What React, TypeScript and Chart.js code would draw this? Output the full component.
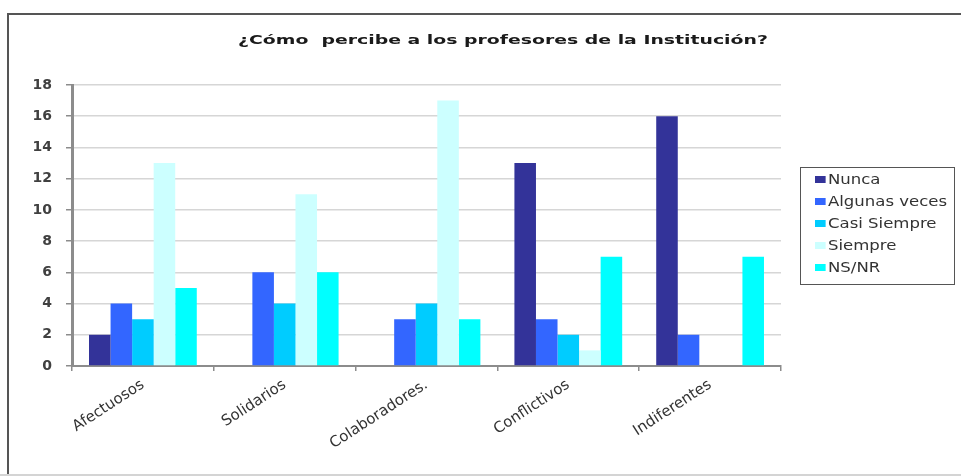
import React, { useEffect, useRef } from "react";
import { Chart, registerables } from "chart.js";

Chart.register(...registerables);

const categories = ["Afectuosos", "Solidarios", "Colaboradores.", "Conflictivos", "Indiferentes"];
const seriesNames = ["Nunca", "Algunas veces", "Casi Siempre", "Siempre", "NS/NR"];
const nunca = [2, 0, 0, 13, 16];
const algunasVeces = [4, 6, 3, 3, 2];
const casiSiempre = [3, 4, 4, 2, 0];
const siempre = [13, 11, 17, 1, 0];
const nsnr = [5, 6, 3, 7, 7];
const seriesColors = ["#333399", "#3366FF", "#00CCFF", "#CCFFFF", "#00FFFF"];
const yTicks = [0, 2, 4, 6, 8, 10, 12, 14, 16, 18];
const title = "¿Cómo  percibe a los profesores de la Institución?";

const W = 961;
const H = 476;
const AREA_LEFT = 72;
const AREA_RIGHT = 781;
const AREA_TOP = 85;
const AREA_BOTTOM = 366;
const FONT = "'DejaVu Sans', Verdana, sans-serif";

export default function App() {
  const ref = useRef<HTMLCanvasElement | null>(null);

  useEffect(() => {
    document.body.style.margin = "0";
    const values = [nunca, algunasVeces, casiSiempre, siempre, nsnr];
    const chart = new Chart(ref.current as HTMLCanvasElement, {
      type: "bar",
      data: {
        labels: categories,
        datasets: seriesNames.map((name, i) => ({
          label: name,
          data: values[i],
          backgroundColor: seriesColors[i],
          borderWidth: 0,
          categoryPercentage: 0.76,
          barPercentage: 1.0,
        })),
      },
      options: {
        animation: false,
        responsive: false,
        maintainAspectRatio: false,
        layout: {
          padding: { left: 0, right: W - AREA_RIGHT, top: AREA_TOP, bottom: 0 },
        },
        plugins: {
          legend: { display: false },
          title: { display: false },
          tooltip: { enabled: false },
        },
        scales: {
          x: {
            afterFit: (scale: any) => {
              scale.height = H - AREA_BOTTOM;
            },
            grid: {
              display: true,
              drawOnChartArea: false,
              drawTicks: true,
              tickLength: 5,
              tickColor: "#8c8c8c",
              lineWidth: 1.5,
            },
            border: { display: true, color: "#8c8c8c", width: 2 },
            ticks: {
              minRotation: 33,
              maxRotation: 33,
              padding: 5,
              color: "#333333",
              font: { family: FONT, size: 15 },
            },
          },
          y: {
            min: 0,
            max: 18,
            afterFit: (scale: any) => {
              scale.width = AREA_LEFT;
            },
            afterBuildTicks: (scale: any) => {
              scale.ticks = yTicks.map((v) => ({ value: v }));
            },
            grid: {
              color: "#d6d6d6",
              lineWidth: 1.5,
              drawTicks: true,
              tickLength: 6,
              tickColor: "#8c8c8c",
            },
            border: { display: true, color: "#8c8c8c", width: 3 },
            ticks: {
              padding: 14,
              color: "#404040",
              font: { family: FONT, size: 14, weight: "bold" },
            },
          },
        },
      },
    });
    return () => chart.destroy();
  }, []);

  return (
    <div style={{ position: "relative", width: W, height: H, background: "#fff", overflow: "hidden" }}>
      <canvas ref={ref} width={W} height={H} style={{ position: "absolute", left: 0, top: 0 }} />
      <div style={{ position: "absolute", left: 7, top: 13, width: W, height: 2, background: "#555" }} />
      <div style={{ position: "absolute", left: 7, top: 13, width: 2, height: H, background: "#555" }} />
      <div style={{ position: "absolute", left: 0, top: H - 2, width: W, height: 2, background: "#d4d4d4" }} />
      <div
        style={{
          position: "absolute",
          left: 0,
          width: 1006,
          top: 32,
          textAlign: "center",
          fontFamily: FONT,
          fontWeight: "bold",
          fontSize: 13,
          color: "#1a1a1a",
          whiteSpace: "pre",
          transform: "scaleX(1.45)",
          transformOrigin: "503px 0",
        }}
      >
        {title}
      </div>
      <div
        style={{
          position: "absolute",
          left: 800,
          top: 167,
          width: 155,
          height: 118,
          border: "1.5px solid #555",
          boxSizing: "border-box",
          fontFamily: FONT,
          fontSize: 14,
          color: "#333",
        }}
      >
        {seriesNames.map((name, i) => (
          <div
            key={name}
            style={{
              position: "absolute",
              left: 14,
              top: 1 + i * 22,
              height: 20,
              display: "flex",
              alignItems: "center",
              whiteSpace: "nowrap",
              transform: "scaleX(1.18)",
              transformOrigin: "0 0",
            }}
          >
            <span style={{ display: "inline-block", width: 9, height: 7, background: seriesColors[i], marginRight: 2 }} />
            <span>{name}</span>
          </div>
        ))}
      </div>
    </div>
  );
}
